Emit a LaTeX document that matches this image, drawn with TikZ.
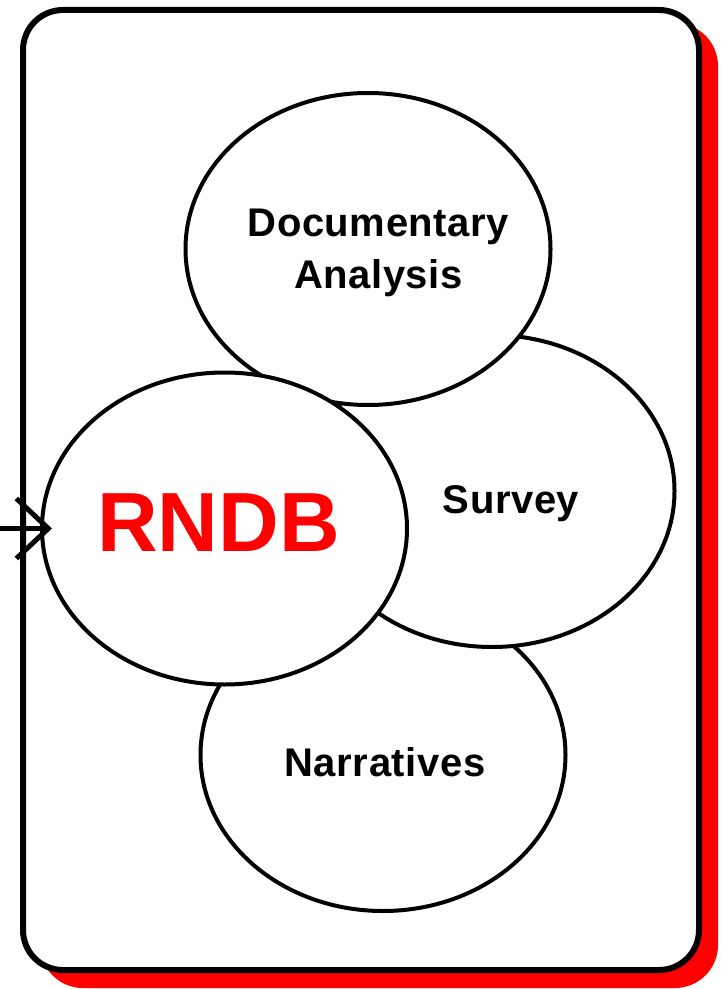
\documentclass[tikz,border=0pt]{standalone}
\usepackage{fontspec}
\setmainfont{Liberation Sans}
\newfontfamily\tagfont[LetterSpace=1.5]{Liberation Sans}
\usetikzlibrary{shapes.geometric, arrows.meta}
\newlength{\ewidth}
\setlength{\ewidth}{182.5pt}
\newlength{\eheight}
\setlength{\eheight}{156pt}

\begin{document}
\begin{tikzpicture}[
x=0.5pt, y=-0.5pt,
myblob/.style={ellipse, draw, line width=2pt, fill=white, minimum width=\ewidth, minimum height=\eheight, inner sep=0pt}, % my basic ellipse
tag/.style={font=\tagfont\fontsize{20pt}{26pt}\selectfont\bfseries, align=center}, % labels of the sources
coretag/.style={font=\fontsize{42pt}{50pt}\selectfont\bfseries, text=red}, % label of the database
frame/.style={line width=3pt, rounded corners=20pt} % outer box
]

\useasboundingbox (0,0) rectangle (720,989);

\fill[red, rounded corners=21.5pt] (40,23) rectangle (718,988);
\draw[frame, fill=white] (23,10) rectangle (699,970);

\node[myblob, label={[tag, xshift=1pt, yshift=-3.75pt]center:Narratives}] (narr) at (383,755) {};
\node[myblob, label={[tag, xshift=9.5pt, yshift=-6.3pt]center:Survey}] (survey) at (492,491) {};
\node[myblob, label={[tag, xshift=5.2pt, yshift=-1.85pt]center:Documentary\\Analysis}] (doc) at (368,249) {};
\node[myblob, label={[coretag, xshift=-3pt, yshift=2.75pt]center:RNDB}] (rndb) at (224.5,528.5) {};

\coordinate (src) at (0,528.5);
\draw[line width=2.75pt, -{Straight Barb[length=16pt, width=30pt, line width=2.5pt]}] (src) -- ([xshift=6pt]rndb.west);

\end{tikzpicture}
\end{document}
